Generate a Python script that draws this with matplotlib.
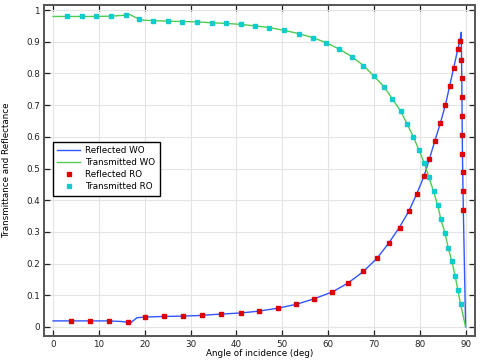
import matplotlib

matplotlib.use("Agg")
import matplotlib.pyplot as plt
import numpy as np

# Reflected / transmitted, wave optics (lines)
wo_refl_angle = [0, 4, 8, 12, 15, 16.4, 17.0, 18.3, 20, 24, 28, 32, 36, 41, 45, 49, 53, 57, 61,
                 64.4, 67.7, 70.7, 73.2, 75.5, 77.6, 79.3, 80.9, 82.1, 83.3, 84.5, 85.6, 86.5,
                 87.4, 88.3, 88.8, 89.05, 89.15, 89.3, 89.5, 90]
wo_refl = [0.019, 0.019, 0.019, 0.019, 0.017, 0.014, 0.014, 0.029, 0.031, 0.033, 0.034, 0.036,
           0.040, 0.044, 0.050, 0.059, 0.071, 0.089, 0.111, 0.139, 0.175, 0.217, 0.264, 0.313,
           0.365, 0.419, 0.475, 0.530, 0.588, 0.644, 0.701, 0.760, 0.818, 0.877, 0.905, 0.930,
           0.800, 0.550, 0.369, 0.0]

wo_trans_angle = [0, 3, 6.3, 9.4, 12.6, 15.8, 16.7, 18.7, 19.8, 21.9, 25, 28.2, 31.4, 34.6, 37.8,
                  41, 44.1, 47.2, 50.4, 53.6, 56.7, 59.6, 62.4, 65.2, 67.7, 70, 72.2, 74, 75.8,
                  77.2, 78.6, 79.8, 81, 82, 83, 83.9, 84.6, 85.5, 86.2, 87, 87.7, 88.3, 88.9, 90]
wo_trans = [0.980, 0.980, 0.980, 0.980, 0.981, 0.984, 0.986, 0.972, 0.968, 0.967, 0.965, 0.964,
            0.963, 0.960, 0.958, 0.955, 0.950, 0.945, 0.936, 0.926, 0.913, 0.897, 0.877, 0.853,
            0.825, 0.792, 0.758, 0.720, 0.682, 0.642, 0.600, 0.559, 0.516, 0.472, 0.428, 0.384,
            0.340, 0.296, 0.250, 0.207, 0.162, 0.117, 0.071, 0.0]

# Ray optics (markers)
ro_refl_angle = [3.9, 8.1, 12.3, 16.4, 20.1, 24.3, 28.4, 32.5, 36.7, 40.9, 44.9, 49.1, 53.1, 57.0,
                 60.9, 64.4, 67.7, 70.7, 73.2, 75.6, 77.6, 79.3, 80.9, 82.1, 83.3, 84.5, 85.6,
                 86.5, 87.4, 88.3, 88.8, 89.1, 89.15, 89.2, 89.23, 89.26, 89.3, 89.35, 89.42, 89.5]
ro_refl = [0.020, 0.020, 0.019, 0.015, 0.031, 0.034, 0.034, 0.037, 0.040, 0.044, 0.050, 0.059,
           0.071, 0.089, 0.111, 0.139, 0.175, 0.217, 0.264, 0.313, 0.365, 0.419, 0.475, 0.530,
           0.588, 0.644, 0.701, 0.760, 0.818, 0.877, 0.904, 0.843, 0.785, 0.725, 0.666, 0.606,
           0.547, 0.488, 0.428, 0.369]

ro_trans_angle = [3, 6.3, 9.4, 12.6, 15.8, 18.7, 21.9, 25, 28.2, 31.4, 34.6, 37.8, 41, 44.1, 47.2,
                  50.4, 53.6, 56.7, 59.6, 62.4, 65.2, 67.7, 70, 72.2, 74, 75.8, 77.2, 78.6, 79.8,
                  81, 82, 83, 83.9, 84.6, 85.5, 86.2, 87, 87.7, 88.3, 88.9]
ro_trans = [0.980, 0.980, 0.980, 0.981, 0.984, 0.972, 0.967, 0.965, 0.964, 0.963, 0.960, 0.958,
            0.955, 0.950, 0.945, 0.936, 0.926, 0.913, 0.897, 0.877, 0.853, 0.825, 0.792, 0.758,
            0.720, 0.682, 0.642, 0.600, 0.559, 0.516, 0.472, 0.428, 0.384, 0.340, 0.296, 0.250,
            0.207, 0.162, 0.117, 0.071]

x_ticks = list(range(0, 100, 10))
y_ticks = [0, 0.1, 0.2, 0.3, 0.4, 0.5, 0.6, 0.7, 0.8, 0.9, 1]
y_tick_labels = ["0", "0.1", "0.2", "0.3", "0.4", "0.5", "0.6", "0.7", "0.8", "0.9", "1"]

FS = 6.3
plt.rcParams["font.family"] = ["DejaVu Sans"]
plt.rcParams["font.size"] = FS

fig = plt.figure(figsize=(4.83, 3.61), dpi=100)
ax = fig.add_axes([0.091, 0.069, 0.892, 0.917])

ax.plot(wo_refl_angle, wo_refl, color="#3355ff", linewidth=1.0, label="Reflected WO", zorder=3)
ax.plot(wo_trans_angle, wo_trans, color="#4fcc4f", linewidth=1.0, label="Transmitted WO", zorder=3)
ax.plot(ro_refl_angle, ro_refl, linestyle="none", marker="s", markersize=3.1,
        color="#dd0000", label="Reflected RO", zorder=4)
ax.plot(ro_trans_angle, ro_trans, linestyle="none", marker="s", markersize=3.1,
        color="#11cccc", label="Transmitted RO", zorder=4)

ax.set_xlim(-2, 92)
ax.set_ylim(-0.029, 1.016)
ax.set_xticks(x_ticks)
ax.set_yticks(y_ticks)
ax.set_yticklabels(y_tick_labels)
ax.grid(True, color="#e4e4e4", linewidth=0.8)
ax.set_axisbelow(True)
ax.tick_params(direction="in", top=True, right=True, length=4, width=0.9,
               colors="#222222", labelsize=FS, pad=3)
for side in ["left", "bottom", "top", "right"]:
    ax.spines[side].set_color("#555555")
    ax.spines[side].set_linewidth(1.4)

ax.set_xlabel("Angle of incidence (deg)", fontsize=FS, labelpad=0)
ax.set_ylabel("Transmittance and Reflectance", fontsize=FS, labelpad=11)

leg = ax.legend(loc="upper left", bbox_to_anchor=(0.021, 0.587), fontsize=FS, frameon=True,
                fancybox=False, handlelength=2.6, handletextpad=0.6, borderpad=0.5,
                labelspacing=0.35, markerscale=0.8, borderaxespad=0)
leg.get_frame().set_edgecolor("#000000")
leg.get_frame().set_linewidth(1.0)
leg.get_frame().set_alpha(1.0)

fig.savefig("out.png", dpi=100)
plt.close(fig)
